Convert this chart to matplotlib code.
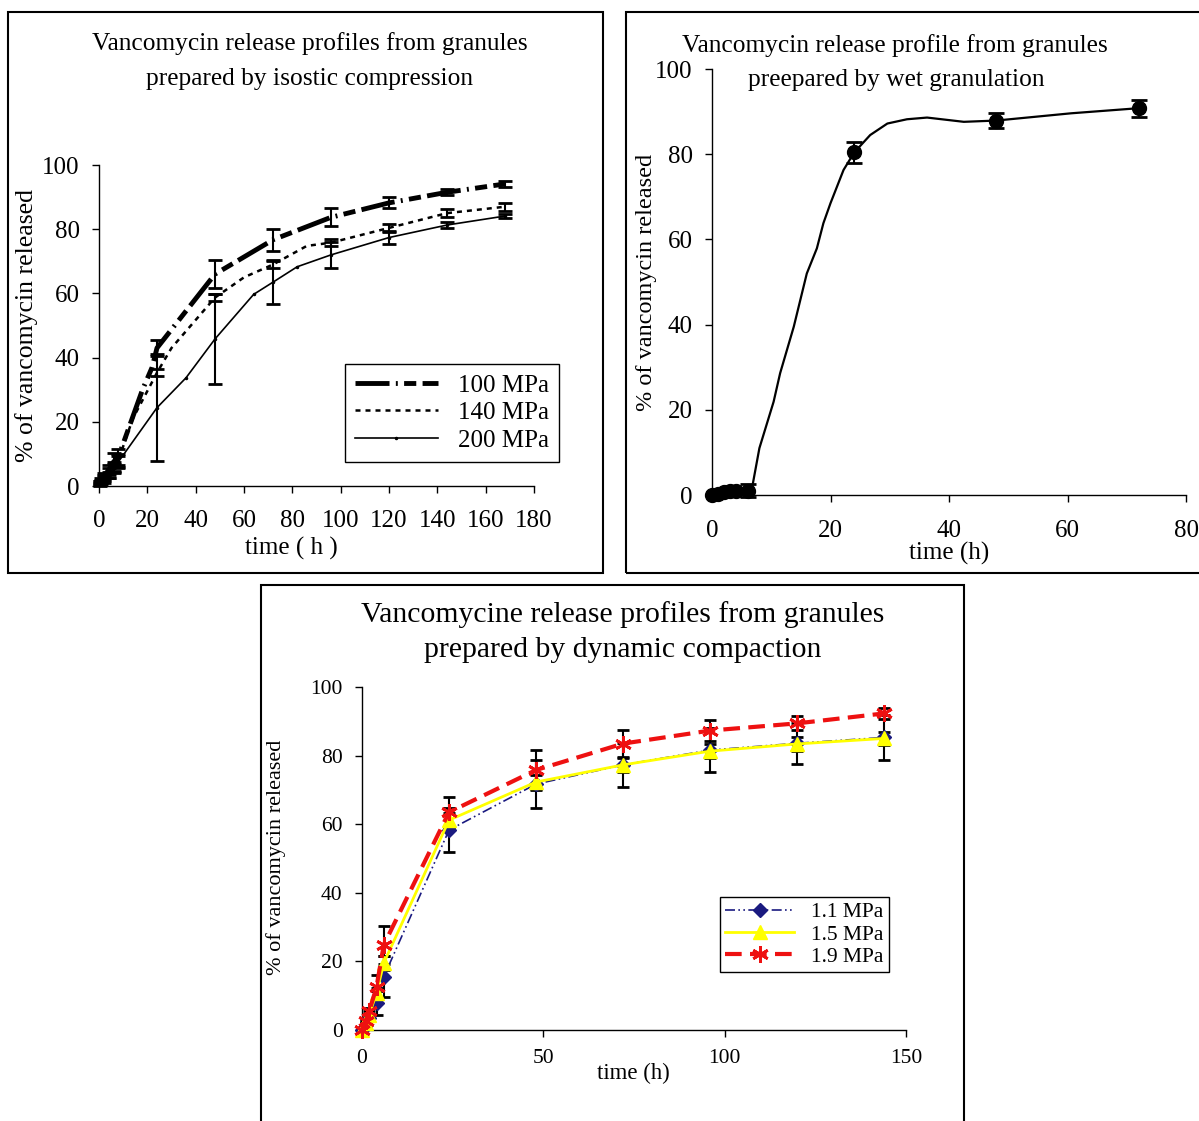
import numpy as np
import matplotlib.pyplot as plt
from matplotlib.patches import Rectangle

plt.rcParams['font.family'] = ['Liberation Serif', 'DejaVu Serif']

# isostatic compression (t in h, % released, +/- error; 0 = no bar)
iso_t_100 = [0.5, 1, 2, 4, 6, 8, 18, 22, 24, 48, 72, 96, 120, 144, 168]
iso_v_100 = [1, 2, 3, 5, 7.5, 9, 30, 37, 43, 66, 76.7, 83.7, 88.2, 91.5, 94.1]
iso_e_100 = [0.5, 0.5, 1, 1.5, 2.8, 2.5, 0, 0, 2.5, 4.3, 3.5, 2.8, 1.7, 0.9, 0.9]
iso_t_140 = [0.5, 1, 2, 4, 6, 8, 14, 24, 30, 48, 60, 72, 86, 96, 120, 144, 168]
iso_v_140 = [1, 1.5, 2.5, 4, 6, 8, 21, 35.3, 43, 58.7, 65, 69, 74.8, 75.8, 80.4, 85, 87]
iso_e_140 = [0.5, 0.5, 1, 1.5, 1.5, 2, 0, 1, 0, 1, 0, 1, 0, 1, 1.3, 1.2, 1.3]
iso_t_200 = [0.5, 1, 2, 4, 6, 8, 24, 36, 48, 64, 72, 82, 96, 120, 144, 168]
iso_v_200 = [0.5, 1, 2, 3.5, 5.5, 7.5, 24.4, 33.7, 45.8, 59.7, 63.5, 68.3, 72, 77.4, 81.3, 84.1]
iso_e_200 = [0.5, 0.5, 1, 1, 1.5, 2, 16.6, 0, 14, 0, 6.8, 0, 4, 2, 1, 0.7]

# wet granulation
wet_t = [0, 1, 2, 3, 4, 6, 24, 48, 72]
wet_v = [0, 0.3, 0.8, 0.9, 0.9, 1.0, 80.4, 87.9, 90.8]
wet_e = [0, 0, 0, 0, 0, 1.5, 2.5, 1.8, 2]
wet_curve_t = [0, 1, 2, 3, 4, 6, 6.7, 8, 10.4, 11.5, 13.8, 16, 17.7, 18.8, 20, 22.2, 24,
               26.7, 29.6, 32.9, 36.3, 42.5, 48, 60.6, 72]
wet_curve_v = [0, 0.3, 0.8, 0.9, 0.9, 1.0, 1.2, 11, 21.9, 28.6, 39.5, 52, 57.9, 63.8, 68.5, 76.3, 80.4,
               84.5, 87.2, 88.2, 88.6, 87.6, 87.9, 89.6, 90.8]

# dynamic compaction
dyn_t = [0, 1, 2, 4, 6, 24, 48, 72, 96, 120, 144]
dyn_v_11 = [0, 1.5, 3.5, 7.8, 15.5, 58.3, 71.7, 77.3, 81.6, 83.6, 85.3]
dyn_e_11 = [0, 0.5, 1, 3.5, 6, 6.5, 7, 6.5, 6.5, 6, 6.5]
dyn_v_15 = [0, 2, 4.5, 10.7, 19.5, 61.2, 72.3, 77.3, 81.3, 83.4, 85]
dyn_e_15 = [0, 0.5, 1, 1.5, 2, 2, 2, 2, 2, 2, 2]
dyn_v_19 = [0, 2.5, 5.5, 12.5, 24.8, 63.5, 75.8, 83.5, 87.3, 89.4, 92.3]
dyn_e_19 = [0, 0.5, 1, 3.5, 5.5, 4.5, 5.7, 4, 3, 2, 1.5]

W, H = 1199, 1121
fig = plt.figure(figsize=(W / 100, H / 100), dpi=100)


def px_axes(left, right, top, bottom):
    return fig.add_axes([left / W, 1 - bottom / H, (right - left) / W, (bottom - top) / H])


def ftext(x, y, s, size, **kw):
    fig.text(x / W, 1 - y / H, s, fontsize=size, ha='center', va='center', **kw)


def frame(x0, y0, x1, y1):
    fig.add_artist(Rectangle((x0 / W, 1 - y1 / H), (x1 - x0) / W, (y1 - y0) / H,
                             transform=fig.transFigure, fill=False, lw=1.5, ec='black'))


def style(ax, size, xpad, ypad):
    for s in ['top', 'right']:
        ax.spines[s].set_visible(False)
    for s in ['left', 'bottom']:
        ax.spines[s].set_linewidth(1)
    ax.tick_params(direction='out', length=5, width=1, labelsize=size)
    ax.tick_params(axis='x', pad=xpad)
    ax.tick_params(axis='y', pad=ypad)


def bars(ax, t, v, e, capsize, color='black'):
    t, v, e = np.array(t), np.array(v), np.array(e)
    m = e > 0
    ax.errorbar(t[m], v[m], yerr=e[m], fmt='none', ecolor=color, elinewidth=1.5,
                capsize=capsize, capthick=2, clip_on=False, zorder=4)


frame(8, 12, 603, 573)
frame(626, 12, 1215, 573)
frame(261, 585, 964, 1135)

# ---- panel 1
ax1 = px_axes(99, 534, 165, 486)
style(ax1, 18, 12, 9)
bars(ax1, iso_t_100, iso_v_100, iso_e_100, 5)
bars(ax1, iso_t_140, iso_v_140, iso_e_140, 5)
bars(ax1, iso_t_200, iso_v_200, iso_e_200, 5)
ax1.plot(iso_t_100, iso_v_100, color='black', lw=3.5,
         linestyle=(0, (7, 1.3, 0.4, 1.3, 2.5, 1.3)), label='100 MPa', clip_on=False)
ax1.plot(iso_t_140, iso_v_140, color='black', lw=1.8, linestyle=(0, (2, 2)),
         label='140 MPa', clip_on=False)
ax1.plot(iso_t_200, iso_v_200, color='black', lw=1.2, marker='.', ms=3,
         label='200 MPa', clip_on=False)
ax1.set_xlim(0, 180)
ax1.set_ylim(0, 100)
ax1.set_xticks(np.arange(0, 181, 20))
ax1.set_yticks(np.arange(0, 101, 20))
ax1.set_ylabel('% of vancomycin released', fontsize=18.5)
ax1.yaxis.set_label_coords(-0.14, 0.5)
leg = ax1.legend(loc='upper left', bbox_to_anchor=(0.566, 0.38), fontsize=18,
                 handlelength=3.3, fancybox=False, edgecolor='black', framealpha=1,
                 borderpad=0.4, labelspacing=0.2, borderaxespad=0)
leg.get_frame().set_linewidth(1)
ftext(310, 44, 'Vancomycin release profiles from granules', 18.3)
ftext(310, 79, 'prepared by isostic compression', 18.3)
ftext(291, 548, 'time ( h )', 18)

# ---- panel 2
ax2 = px_axes(712, 1186, 69, 495)
style(ax2, 18, 13, 9)
ax2.plot(wet_curve_t, wet_curve_v, color='black', lw=1.6, clip_on=False)
bars(ax2, wet_t, wet_v, wet_e, 6)
ax2.plot(wet_t, wet_v, 'o', color='black', ms=10, clip_on=False, zorder=5)
ax2.set_xlim(0, 80)
ax2.set_ylim(0, 100)
ax2.set_xticks(np.arange(0, 81, 20))
ax2.set_yticks(np.arange(0, 101, 20))
ax2.set_ylabel('% of vancomycin released', fontsize=17.5)
ax2.yaxis.set_label_coords(-0.115, 0.498)
ftext(895, 46, 'Vancomycin release profile from granules', 18.3)
ftext(896, 80, 'preepared by wet granulation', 18.3)
ftext(949, 553, 'time (h)', 18)

# ---- panel 3
ax3 = px_axes(362, 906, 687, 1030)
style(ax3, 15.5, 9, 9)
bars(ax3, dyn_t, dyn_v_11, dyn_e_11, 4.5)
bars(ax3, dyn_t, dyn_v_15, dyn_e_15, 4.5)
bars(ax3, dyn_t, dyn_v_19, dyn_e_19, 4.5)
ax3.plot(dyn_t, dyn_v_11, color='#1a1a80', lw=1.2, linestyle=(0, (6, 2, 1, 2, 1, 2)),
         marker='D', ms=7, label='1.1 MPa', clip_on=False, zorder=5)
ax3.plot(dyn_t, dyn_v_15, color='#ffff00', lw=2, marker='^', ms=10,
         label='1.5 MPa', clip_on=False, zorder=6)
ax3.plot(dyn_t, dyn_v_19, color='#ee1111', lw=3, linestyle=(0, (4, 2)),
         marker=(6, 2, 0), ms=12, mew=2, label='1.9 MPa', clip_on=False, zorder=7)
ax3.set_xlim(0, 150)
ax3.set_ylim(0, 100)
ax3.set_xticks(np.arange(0, 151, 50))
ax3.set_yticks(np.arange(0, 101, 20))
ax3.set_ylabel('% of vancomycin released', fontsize=16)
ax3.yaxis.set_label_coords(-0.14, 0.504)
leg3 = ax3.legend(loc='upper left', bbox_to_anchor=(0.658, 0.388), fontsize=15.5,
                  handlelength=3.2, fancybox=False, edgecolor='black', framealpha=1,
                  borderpad=0.25, labelspacing=0.1, borderaxespad=0)
leg3.get_frame().set_linewidth(1)
ftext(623, 615, 'Vancomycine release profiles from granules', 21.4)
ftext(623, 650, 'prepared by dynamic compaction', 21.4)
ftext(633, 1073, 'time (h)', 16.4)

fig.savefig('out.png', dpi=100)
